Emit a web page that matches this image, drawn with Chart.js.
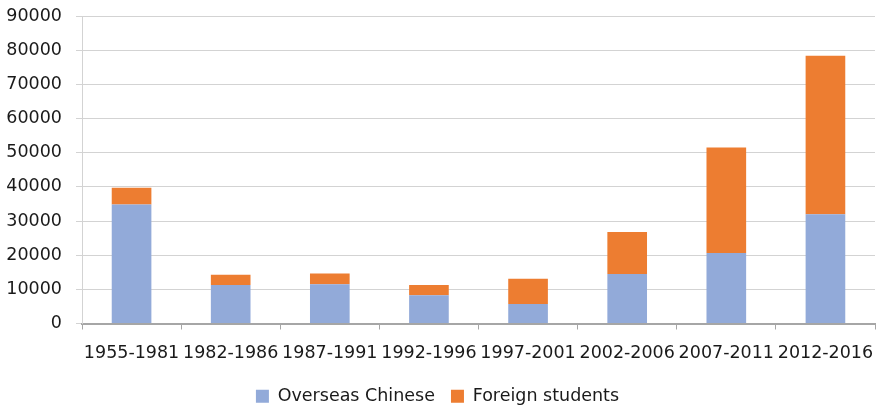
<!DOCTYPE html>
<html>
<head>
<meta charset="utf-8">
<script src="https://cdn.jsdelivr.net/npm/chart.js@4"></script>
<style>
  html, body { margin: 0; padding: 0; background: #fff; }
  #wrap { width: 876px; height: 409px; position: relative; }
</style>
</head>
<body>
<div id="wrap"><canvas id="studentsChart"></canvas></div>
<script>
// Periods and student counts per group
const periods = ['1955-1981', '1982-1986', '1987-1991', '1992-1996', '1997-2001', '2002-2006', '2007-2011', '2012-2016'];
const overseasChinese = [34800, 11300, 11500, 8300, 5700, 14500, 20600, 32000];
const foreignStudents = [4900, 3000, 3100, 3000, 7400, 12300, 30900, 46400];
const yTicks = [0, 10000, 20000, 30000, 40000, 50000, 60000, 70000, 80000, 90000];

const blue = '#92aad9';
const orange = '#ed7d31';
const textColor = '#1a1a1a';
const font = { family: 'DejaVu Sans', size: 17.5 };

new Chart(document.getElementById('studentsChart').getContext('2d'), {
    type: 'bar',
    data: {
        labels: periods,
        datasets: [
            { label: 'Overseas Chinese', data: overseasChinese, backgroundColor: blue, borderWidth: 0 },
            { label: 'Foreign students', data: foreignStudents, backgroundColor: orange, borderWidth: 0 }
        ]
    },
    options: {
        responsive: true,
        maintainAspectRatio: false,
        animation: false,
        layout: { padding: { top: 16, right: 1, bottom: -6, left: 0 } },
        datasets: { bar: { barPercentage: 0.4, categoryPercentage: 1 } },
        plugins: {
            tooltip: { enabled: false },
            legend: {
                position: 'bottom',
                labels: {
                    color: textColor,
                    font: { family: 'DejaVu Sans', size: 17.5 },
                    boxWidth: 13,
                    boxHeight: 13,
                    padding: 16
                }
            }
        },
        scales: {
            x: {
                stacked: true,
                afterFit: axis => { axis.paddingLeft = 0; axis.paddingRight = 0; axis.height = 48; },
                grid: {
                    offset: true,
                    drawOnChartArea: false,
                    drawTicks: true,
                    tickLength: 6,
                    color: '#a6a6a6'
                },
                border: { display: true, color: '#a6a6a6', width: 2 },
                ticks: { color: textColor, font: font, padding: 13, maxRotation: 0, autoSkip: false }
            },
            y: {
                stacked: true,
                min: 0,
                max: 90000,
                afterBuildTicks: axis => { axis.ticks = yTicks.map(v => ({ value: v })); },
                afterFit: axis => { axis.width = 82; axis.paddingTop = 0; axis.paddingBottom = 0; },
                grid: { color: '#d3d3d3', lineWidth: 1, tickLength: 6 },
                border: { display: true, color: '#d3d3d3' },
                ticks: { color: textColor, font: font, padding: 14, callback: v => String(v) }
            }
        }
    }
});
</script>
</body>
</html>
